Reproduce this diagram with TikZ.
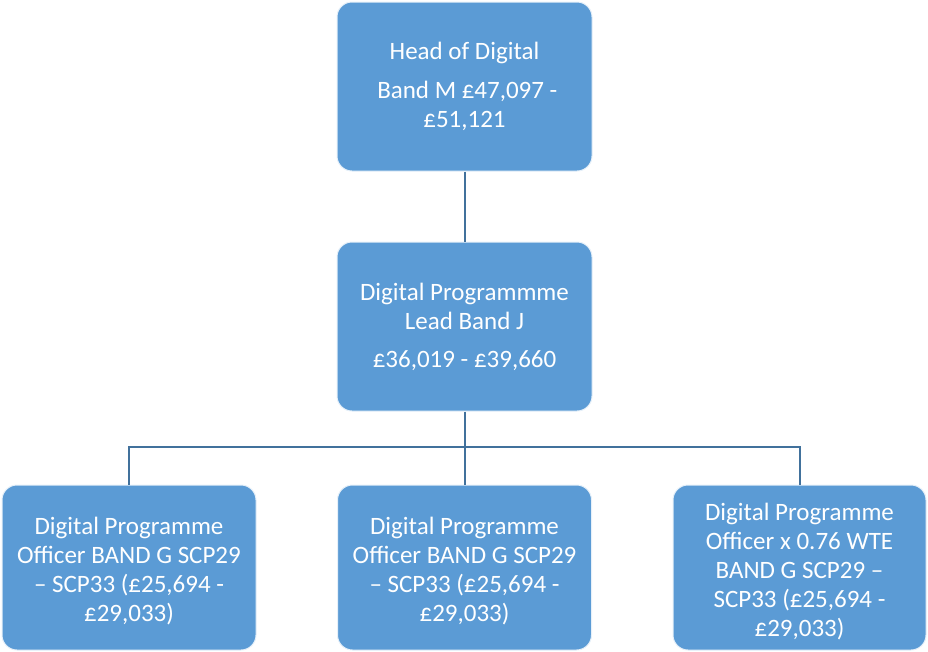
\documentclass[tikz,border=0pt]{standalone}
\usepackage{fontspec}
\setmainfont{Carlito}
\usetikzlibrary{positioning,calc}
\definecolor{boxblue}{HTML}{5B9BD5}
\definecolor{linkblue}{HTML}{41719C}

\begin{document}
\begin{tikzpicture}[x=1pt,y=-1pt,
  post/.style={draw=white!85!boxblue,line width=1pt,fill=boxblue,rounded corners=15pt,
    text=white,align=center,inner sep=0pt,
    font=\fontsize{25}{29}\selectfont},
  link/.style={draw=linkblue,line width=2pt}]
\useasboundingbox (0,0) rectangle (928,651);
\node[post,minimum width=255pt,minimum height=169pt] (head) at (464.5,86.5)
  {Head of Digital\\[10pt] \ Band M £47,097 -\\£51,121};
\node[post,minimum width=255pt,minimum height=169pt] (lead) at (464.5,326.5)
  {Digital Programmme\\Lead Band J\\[9pt]£36,019 - £39,660};
\node[post,minimum width=254pt,minimum height=165pt] (offa) at (129,567.5)
  {\rule{0pt}{25pt}Digital Programme\\Officer BAND G SCP29\\– SCP33 (£25,694 -\\£29,033)};
\node[post,minimum width=254pt,minimum height=165pt] (offb) at (464.5,567.5)
  {\rule{0pt}{25pt}Digital Programme\\Officer BAND G SCP29\\– SCP33 (£25,694 -\\£29,033)};
\node[post,minimum width=253pt,minimum height=165pt] (offc) at (799.5,567.5)
  {\rule{0pt}{25pt}Digital Programme\\Officer x 0.76 WTE\\BAND G SCP29 –\\SCP33 (£25,694 -\\£29,033)};
% connectors
\coordinate (bus) at (464.5,447);
\draw[link] (head.south) -- (lead.north);
\draw[link] (lead.south) -- (offb.north);
\draw[link] (bus) -| (offa.north);
\draw[link] (bus) -| (offc.north);
\end{tikzpicture}
\end{document}
